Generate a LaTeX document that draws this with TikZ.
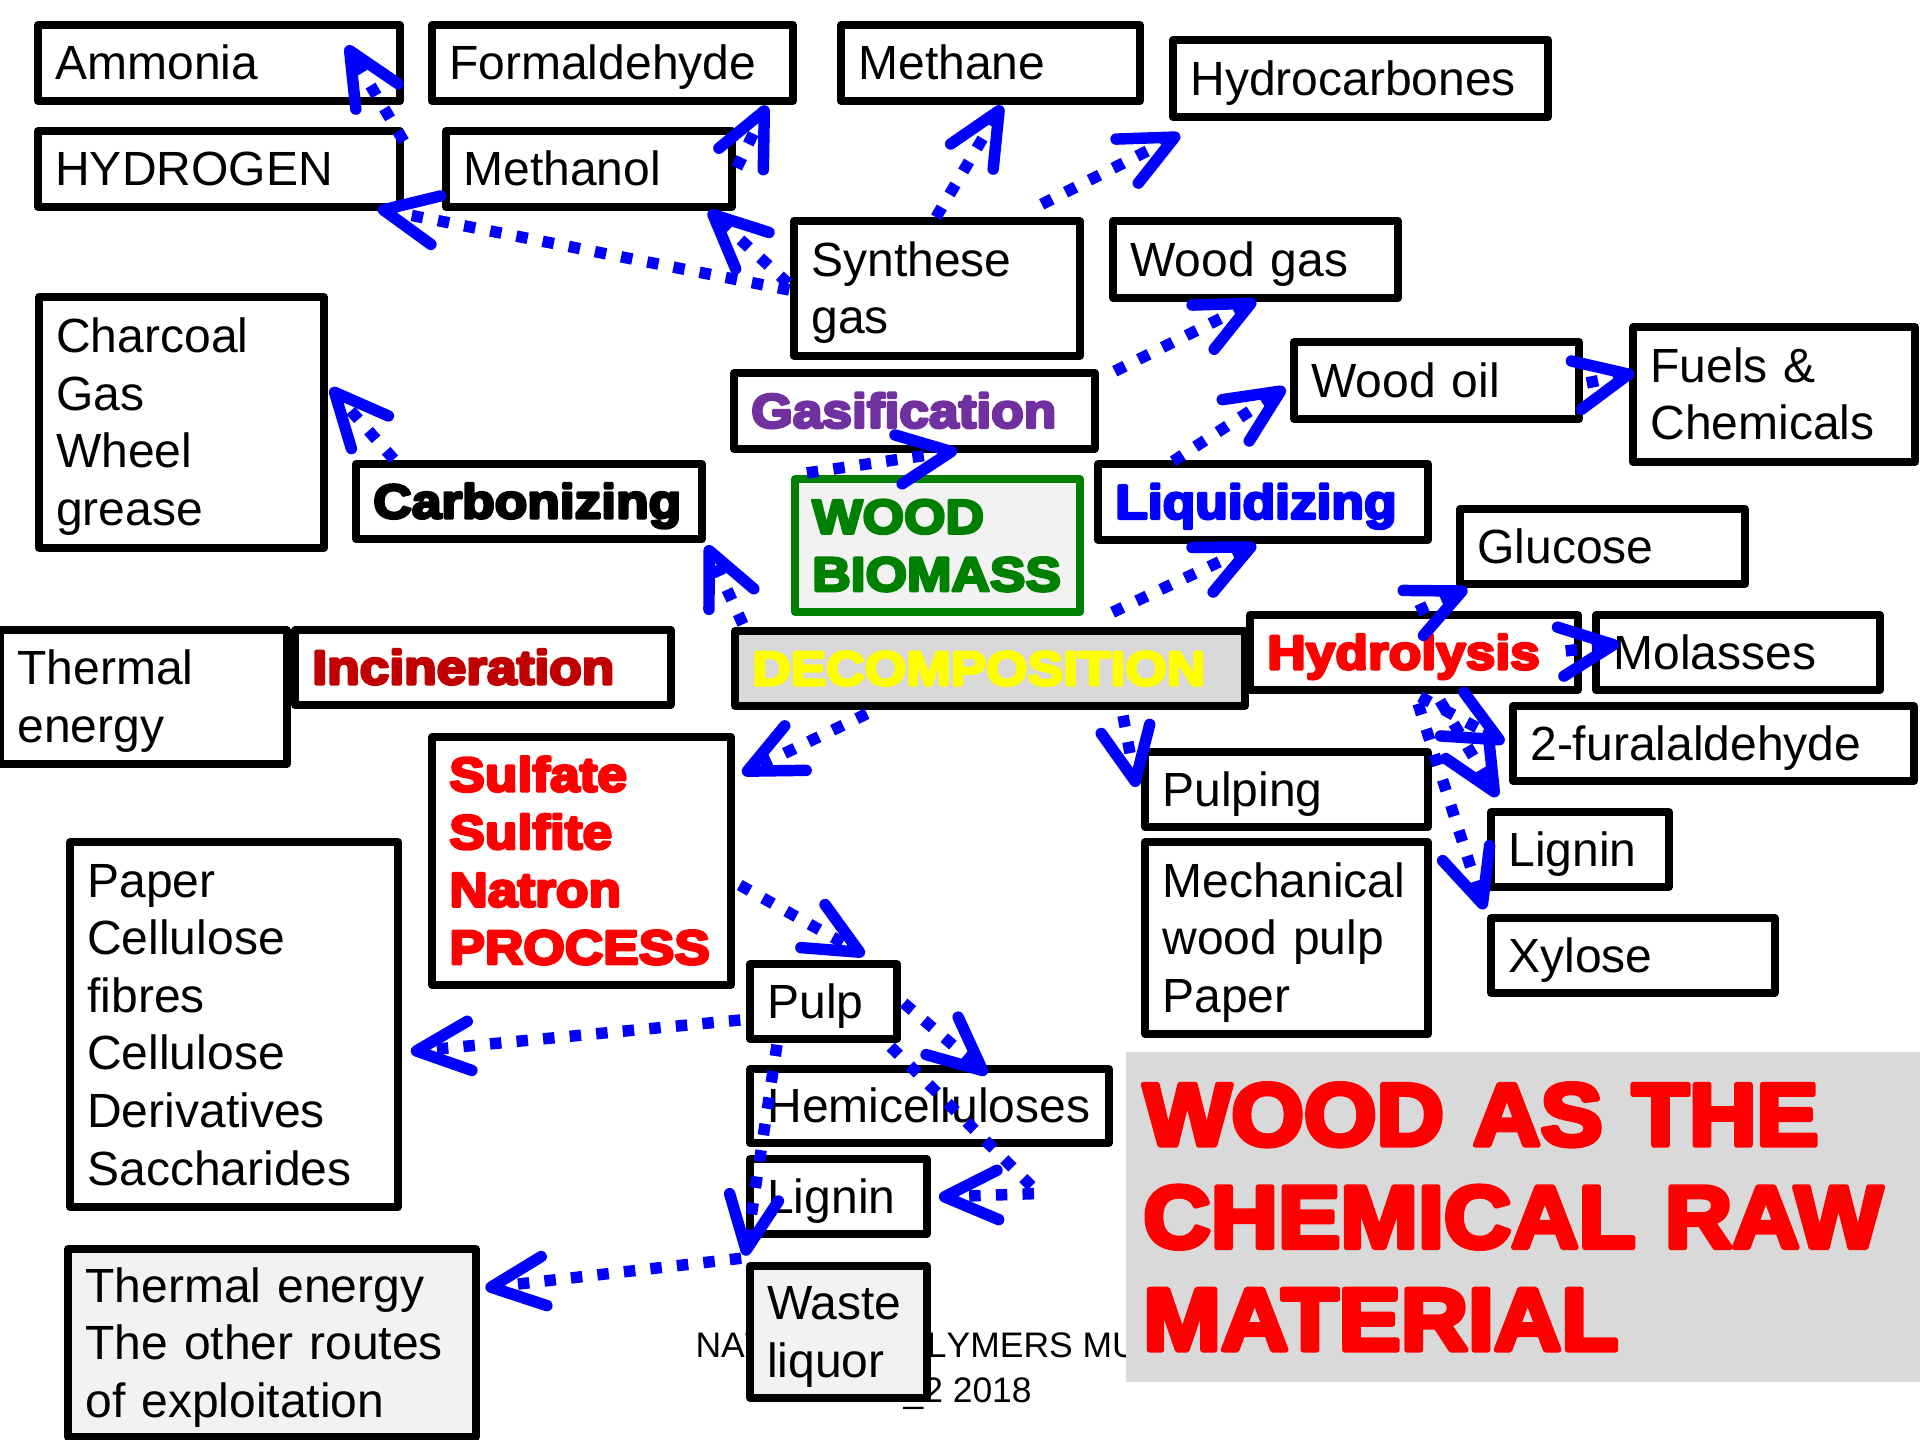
\documentclass[tikz,border=0pt]{standalone}
\usepackage{fontspec}
\setmainfont{Liberation Sans}
\newfontfamily\heavy[FakeStretch=1.11,FakeBold=6]{Liberation Sans Bold}
\newfontfamily\titlef[FakeStretch=1.06,FakeBold=6]{Liberation Sans Bold}
\newfontfamily\footf[Kerning=Off]{Liberation Sans}
\usetikzlibrary{arrows.meta,calc}
\hyphenpenalty=10000 \exhyphenpenalty=10000 \hbadness=10000 \hfuzz=60pt
\newcommand\ms{\rule[-0.212em]{0pt}{1.117em}}
\definecolor{tgray}{HTML}{D9D9D9}
\definecolor{lgray}{HTML}{F2F2F2}
\definecolor{purp}{HTML}{7030A0}
\definecolor{dred}{HTML}{C00000}
\definecolor{dgreen}{HTML}{008000}
\definecolor{arrblue}{HTML}{0000FF}
\definecolor{yel}{HTML}{FFFF00}
\begin{document}
\begin{tikzpicture}[x=0.375pt,y=-0.375pt,
  bx/.style={draw=black, line width=2.8pt, line join=round, fill=white, rectangle,
    inner xsep=6.5pt, inner ysep=0pt, align=left,
    font=\fontsize{18}{21.6}\selectfont,
    execute at begin node=\ms, execute at end node=\ms},
  hv/.style={font=\heavy\fontsize{18}{21.6}\selectfont},
  sz/.style n args={3}{minimum width=#1pt, minimum height=#2pt, text width=#3pt},
  arr/.style={draw=arrblue, line width=4.3pt, dash pattern=on 4.3pt off 5.7pt,
    -{Straight Barb[length=20pt,width=18.5pt,round]}},
  foot/.style={font=\footf\fontsize{13.3}{15}\selectfont, inner sep=0pt, anchor=base west}
]
\useasboundingbox[fill=white] (0,0) rectangle (1920,1440);

% footer (partly hidden)
\node[foot] (footer1) at (695,1357) {NATURAL\hspace{1.8pt} POLYMERS MU};
\node[foot] (footer2) at (903,1402) {\_2 2018};

% boxes
\node[bx, sz={135.75}{28.5}{122.75}] (ammonia) at (219,63) {Ammonia};
\node[bx, sz={135.4}{28.5}{122.4}] (formaldehyde) at (612.5,63) {Formaldehyde};
\node[bx, sz={112.1}{28.5}{99.1}] (methane) at (990.5,63) {Methane};
\node[bx, sz={140.6}{28.9}{127.6}] (hydrocarbones) at (1360.5,78.5) {Hydrocarbones};
\node[bx, sz={135.75}{28.5}{122.75}] (hydrogen) at (219,169) {HYDROGEN};
\node[bx, sz={107.25}{28.5}{94.25}] (methanol) at (589,169) {Methanol};
\node[bx, sz={107.25}{50.6}{94.25}] (synthese) at (937,288.5) {Synthese\\gas};
\node[bx, sz={106.9}{28.9}{93.9}] (woodgas) at (1255.5,259.5) {Wood gas};
\node[bx, sz={106.9}{94.1}{93.9}] (charcoal) at (181.5,422.5) {Charcoal\\Gas\\Wheel\\grease};
\node[bx, hv, text=purp, sz={135.4}{28.5}{122.4}] (gasification) at (914.5,411) {Gasification};
\node[bx, sz={106.9}{28.9}{93.9}] (woodoil) at (1436.5,380.5) {Wood oil};
\node[bx, sz={105.75}{50.6}{92.75}] (fuels) at (1774,394.5) {Fuels \&\\Chemicals};
\node[bx, hv, sz={129.75}{28.1}{116.75}] (carbonizing) at (529,501.5) {Carbonizing};
\node[bx, hv, draw=dgreen, fill=lgray, text=dgreen, sz={106.9}{49.9}{93.9}] (woodbiomass) at (937.5,545.5) {WOOD\\BIOMASS};
\node[bx, hv, text=arrblue, sz={123.75}{28.5}{110.75}] (liquidizing) at (1263,502) {Liquidizing};
\node[bx, sz={106.9}{28.1}{93.9}] (glucose) at (1602.5,546.5) {Glucose};
\node[bx, sz={107.6}{50.25}{94.6}] (thermal1) at (143.5,697) {Thermal\\energy};
\node[bx, hv, text=dred, sz={141}{28.1}{128}] (incineration) at (483,667.5) {Incineration};
\node[bx, hv, fill=tgray, text=yel, sz={191.25}{28.1}{178.25}] (decomposition) at (990,668.5) {DECOMPOSITION};
\node[bx, hv, text=red, sz={123}{28.1}{110}] (hydrolysis) at (1414,652.5) {Hydrolysis};
\node[bx, sz={106.5}{28.1}{93.5}] (molasses) at (1738,652.5) {Molasses};
\node[bx, sz={150.4}{28.1}{137.4}] (fural) at (1713.5,743.5) {2-furalaldehyde};
\node[bx, hv, text=red, sz={112.1}{93}{99.1}] (sulfate) at (581.5,861) {Sulfate\\Sulfite\\Natron\\PROCESS};
\node[bx, sz={106.1}{28.1}{93.1}] (pulping) at (1286.5,789.5) {Pulping};
\node[bx, sz={106.1}{72}{93.1}] (mechanical) at (1286.5,938) {Mechanical\\wood pulp\\Paper};
\node[bx, sz={66.75}{28.1}{53.75}] (ligninR) at (1580,849.5) {Lignin};
\node[bx, sz={106.5}{28.1}{93.5}] (xylose) at (1633,955.5) {Xylose};
\node[bx, sz={123}{136.9}{110}] (paper) at (234,1024.5) {Paper\\Cellulose\\fibres\\Cellulose\\Derivatives\\Saccharides};
\node[bx, sz={55.1}{28.1}{42.1}] (pulp) at (823.5,1001.5) {Pulp};
\node[bx, sz={134.6}{27.75}{121.6}] (hemi) at (929.5,1106) {Hemicelluloses};
\node[bx, sz={66.4}{28.1}{53.4}] (ligninM) at (838.5,1196.5) {Lignin};
\node[bx, fill=lgray, sz={66.4}{49.5}{53.4}] (waste) at (838.5,1332) {Waste\\liquor};
\node[bx, fill=lgray, sz={153}{70.5}{140}] (thermal2) at (272,1343) {Thermal energy\\The other routes\\of exploitation};

% title
\node[bx, draw=none, fill=tgray, text=red, font=\titlef\fontsize{33}{38.4}\selectfont,
  sz={297.75}{123.75}{284.75}] (title) at (1523,1217)
  {\mbox{WOOD AS THE}\\\mbox{CHEMICAL RAW}\\\mbox{MATERIAL}};

% connectors
\draw[arr] ($(hydrogen.north east)+(0,14)$) -- ($(ammonia.south east)+(-57,-59)$);
\draw[arr] ($(methanol.east)+(1,-1)$) -- ($(formaldehyde.south east)+(-30,1)$);
\draw[arr] ($(synthese.west)+(-1,1.5)$) -- ($(hydrogen.south east)+(-26,-2)$);
\draw[arr] ($(synthese.west)+(-2,-5)$) -- ($(methanol.south east)+(-27,0)$);
\draw[arr] ($(synthese.north)+(-1,0)$) -- ($(methane.south)+(11.5,1)$);
\draw[arr] ($(synthese.north east)+(-42,-13)$) -- ($(hydrocarbones.south west)+(10.6,13.7)$);
\draw[arr] ($(gasification.north east)+(16,2)$) -- ($(woodgas.south)+(0.5,-1)$);
\draw[arr] ($(liquidizing.north)+(-90,1)$) -- ($(woodoil.west)+(-5,7.5)$);
\draw[arr] ($(woodoil.east)+(4,2.5)$) -- ($(fuels.west)+(5,-21.5)$);
\draw[arr] ($(woodbiomass.north west)+(15.7,-2.3)$) -- ($(gasification.south)+(42.5,-2)$);
\draw[arr] ($(carbonizing.north west)+(41.5,-1)$) -- ($(charcoal.east)+(3,-34.5)$);
\draw[arr] ($(decomposition.north west)+(11.7,-3)$) -- ($(carbonizing.south east)+(1,2.7)$);
\draw[arr] ($(decomposition.north)+(122.5,-15)$) -- ($(liquidizing.south)+(-7,0.8)$);
\draw[arr] ($(hydrolysis.north)+(3,0)$) -- ($(glucose.south west)+(11,1)$);
\draw[arr] ($(hydrolysis.east)+(-16,-1.5)$) -- ($(molasses.west)+(27,-8.5)$);
\draw[arr] ($(hydrolysis.south)+(6,3)$) -- ($(fural.west)+(-5,-1)$);
\draw[arr] ($(hydrolysis.south)+(26,7)$) -- ($(fural.south west)+(-12,12)$);
\draw[arr] ($(hydrolysis.south)+(4,10)$) -- ($(xylose.north west)+(-3,-5)$);
\draw[arr] ($(decomposition.south)+(133,6)$) -- ($(pulping.west)+(-5,-2.5)$);
\draw[arr] ($(decomposition.south)+(-123,4)$) -- ($(sulfate.north east)+(7.5,40.4)$);
\draw[arr] ($(sulfate.east)+(5,24)$) -- ($(pulp.north)+(41,-5.3)$);
\draw[arr] ($(pulp.west)+(-6,18.5)$) -- ($(paper.east)+(9,27)$);
\draw[arr] ($(pulp.east)+(3,1.5)$) -- ($(hemi.north)+(57.5,9)$);
\draw[arr] ($(pulp.south east)+(-10,4)$) -- ($(ligninM.east)+(108,-3)$) -- ($(ligninM.east)+(8,0.5)$);
\draw[arr] ($(pulp.south)+(-46.5,2)$) -- ($(waste.north west)+(-1,-6.5)$);
\draw[arr] ($(waste.north west)+(-5,-4)$) -- ($(thermal2.north east)+(5.6,42.6)$);
\end{tikzpicture}
\end{document}
